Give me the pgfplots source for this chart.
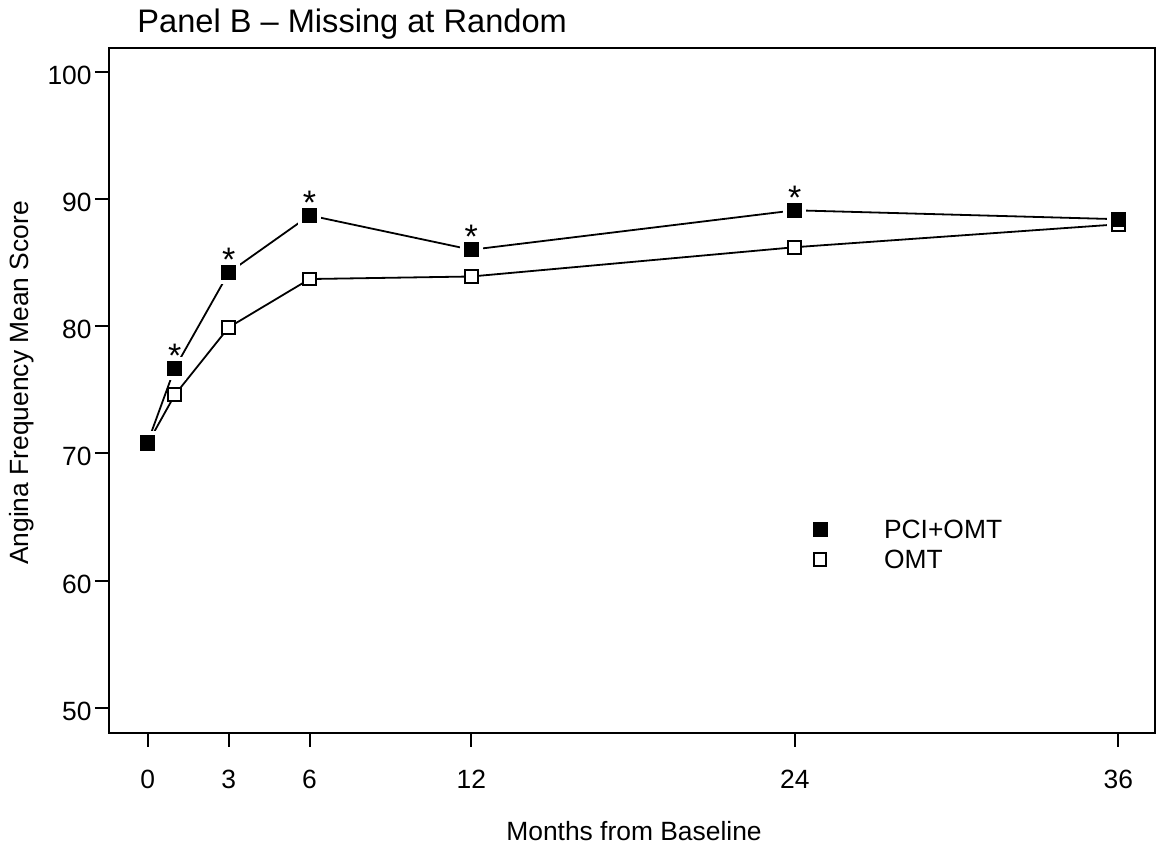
\documentclass[border=0pt]{standalone}
\usepackage{fontspec}
\setmainfont{Liberation Sans}
\usepackage{pgfplots}
\pgfplotsset{compat=1.18}

\begin{document}
\begin{tikzpicture}[font=\fontsize{13.2}{15.8}\selectfont]
\useasboundingbox (-54.5pt,-58.5pt) rectangle (523.5pt,366.5pt);
\begin{axis}[
    at={(0,0)}, anchor=south west,
    width=523pt, height=342.5pt, scale only axis,
    xmin=-1.44, xmax=37.36,
    ymin=48.04, ymax=101.85,
    xtick={0,3,6,12,24,36},
    ytick={50,60,...,100},
    tick pos=left, tick align=outside,
    major tick length=7pt,
    axis line style={line width=1pt},
    every tick/.style={black, line width=1pt},
    /pgf/number format/assume math mode=true,
    xticklabel style={inner sep=0pt, text height=9.5pt, text depth=0pt, anchor=north},
    xticklabel shift=11pt,
    yticklabel style={inner sep=0pt, text height=9.5pt, text depth=0pt, anchor=east, yshift=-1.5pt},
    yticklabel shift=1.5pt,
    title={Panel B -- Missing at Random},
    title style={at={(axis description cs:0.0268,1.0044)}, anchor=base west, inner sep=0pt,
        font=\fontsize{16.3}{19}\selectfont},
    xlabel={Months from Baseline},
    xlabel style={at={(axis description cs:0.5019,-0.1576)}, anchor=base, inner sep=0pt},
    ylabel={Angina Frequency Mean Score},
    ylabel style={at={(axis description cs:-0.0832,0.511)}, anchor=center, rotate=0, inner sep=0pt},
    legend cell align=left,
    legend image code/.code={\draw[#1] plot coordinates {(0pt,0pt)};},
    legend style={at={(axis description cs:0.6727,0.3117)}, anchor=north west,
        draw=none, fill=none, inner sep=0pt, row sep=5.5pt,
        nodes={inner sep=0pt, text height=9.5pt, text depth=0pt},
        /tikz/every odd column/.style={column sep=28.5pt}},
]
% lines
\addplot[black, line width=0.9pt, forget plot] coordinates {
    (0,70.9) (1,76.7) (3,84.2) (6,88.7) (12,86.0) (24,89.1) (36,88.4)};
% white gap round the filled markers
\addplot[only marks, mark=square*, mark size=5.5pt, white, forget plot] coordinates {
    (0,70.9) (1,76.7) (3,84.2) (6,88.7) (12,86.0) (24,89.1) (36,88.4)};
\addplot[black, line width=0.9pt, forget plot] coordinates {
    (0,70.8) (1,74.6) (3,79.9) (6,83.7) (12,83.9) (24,86.2) (36,88.0)};
% markers
\addplot[only marks, mark=square*, mark size=3.5pt, mark options={draw=black, fill=black, line width=0.4pt}] coordinates {
    (0,70.9) (1,76.7) (3,84.2) (6,88.7) (12,86.0) (24,89.1) (36,88.4)};
\addplot[only marks, mark=square*, mark size=3.2pt, mark options={draw=black, fill=white, line width=1pt}] coordinates {
    (0,70.8) (1,74.6) (3,79.9) (6,83.7) (12,83.9) (24,86.2) (36,88.0)};
\addplot[only marks, mark=square*, mark size=3.5pt, mark options={draw=black, fill=black, line width=0.4pt}, forget plot] coordinates {
    (0,70.9) (36,88.4)};
% significance stars
\addplot[draw=none, mark=none, forget plot, nodes near coords={*},
    every node near coord/.append style={anchor=base, inner sep=0pt, yshift=0.5pt,
        font=\fontsize{17}{20}\selectfont}] coordinates {
    (1,76.7) (3,84.2) (6,88.7) (12,86.0) (24,89.1)};
\legend{PCI+OMT, OMT}
\end{axis}
\end{tikzpicture}
\end{document}
